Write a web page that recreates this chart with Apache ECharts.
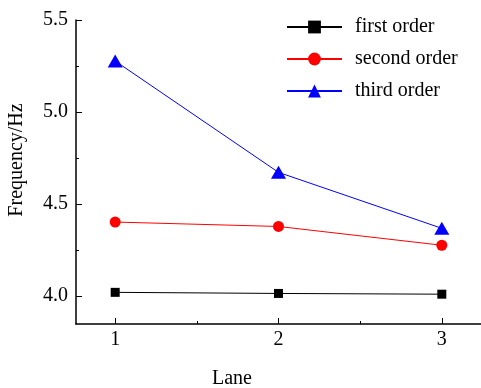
<!DOCTYPE html>
<html>
<head>
<meta charset="utf-8">
<script src="https://cdn.jsdelivr.net/npm/echarts@6/dist/echarts.min.js"></script>
<style>html,body{margin:0;padding:0;background:#fff}#c{width:481px;height:388px}</style>
</head>
<body>
<div id="c"></div>
<script>
var lanes = [1, 2, 3];
var firstOrder = [4.020, 4.014, 4.010];
var secondOrder = [4.402, 4.378, 4.276];
var thirdOrder = [5.277, 4.672, 4.368];
var xTicks = [1, 2, 3];
var xMinor = [1.5, 2.5];
var yTicks = [4.0, 4.5, 5.0, 5.5];
var yMinor = [4.25, 4.75, 5.25];

var FONT = 'Liberation Serif';
function pairs(v){ return lanes.map(function(x,i){ return [x, v[i]]; }); }
var chart = echarts.init(document.getElementById('c'));
var gridRect = {left:76, right:0, top:20, bottom:64};
chart.setOption({
  animation:false,
  grid:[Object.assign({}, gridRect), Object.assign({}, gridRect)],
  legend:{
    orient:'vertical', left:281, top:12, itemWidth:55, itemHeight:16, itemGap:12,
    textStyle:{fontFamily:FONT, fontSize:20, color:'#000', padding:[0,0,0,8]},
    data:['first order','second order','third order']
  },
  xAxis:[
    {type:'value', gridIndex:0, min:0.76, max:3.24,
      axisLine:{show:true, lineStyle:{color:'#000', width:1.5}},
      axisTick:{show:true, inside:true, length:6, customValues:xTicks, lineStyle:{color:'#000', width:1}},
      axisLabel:{customValues:xTicks, margin:6, fontFamily:FONT, fontSize:20, color:'#000'},
      splitLine:{show:false}},
    {type:'value', gridIndex:1, min:0.76, max:3.24,
      axisLine:{show:false},
      axisTick:{show:true, inside:true, length:3, customValues:xMinor, lineStyle:{color:'#000', width:1}},
      axisLabel:{show:false},
      splitLine:{show:false}}
  ],
  yAxis:[
    {type:'value', gridIndex:0, min:3.848, max:5.5,
      axisLine:{show:true, lineStyle:{color:'#000', width:1.5}},
      axisTick:{show:true, inside:true, length:6, customValues:yTicks, lineStyle:{color:'#000', width:1}},
      axisLabel:{customValues:yTicks, margin:8, fontFamily:FONT, fontSize:20, color:'#000',
        formatter:function(v){ return v.toFixed(1); }},
      splitLine:{show:false}},
    {type:'value', gridIndex:1, min:3.848, max:5.5,
      axisLine:{show:false},
      axisTick:{show:true, inside:true, length:3, customValues:yMinor, lineStyle:{color:'#000', width:1}},
      axisLabel:{show:false},
      splitLine:{show:false}}
  ],
  graphic:[
    {type:'text', left:212, top:369, style:{text:'Lane', font:'20px "Liberation Serif"', fill:'#000'}},
    {type:'text', x:17, y:160, rotation:Math.PI/2, style:{text:'Frequency/Hz', font:'20px "Liberation Serif"', fill:'#000', textAlign:'center', textVerticalAlign:'middle'}}
  ],
  series:[
    {name:'first order', type:'line', xAxisIndex:0, yAxisIndex:0, data:pairs(firstOrder), symbol:'rect', symbolSize:9,
      lineStyle:{color:'#000', width:1}, itemStyle:{color:'#000'}},
    {name:'second order', type:'line', xAxisIndex:0, yAxisIndex:0, data:pairs(secondOrder), symbol:'circle', symbolSize:11,
      lineStyle:{color:'#ff0000', width:1}, itemStyle:{color:'#ff0000'}},
    {name:'third order', type:'line', xAxisIndex:0, yAxisIndex:0, data:pairs(thirdOrder), symbol:'triangle', symbolSize:[15,13],
      lineStyle:{color:'#0000ff', width:1}, itemStyle:{color:'#0000ff'}}
  ]
});
</script>
</body>
</html>
